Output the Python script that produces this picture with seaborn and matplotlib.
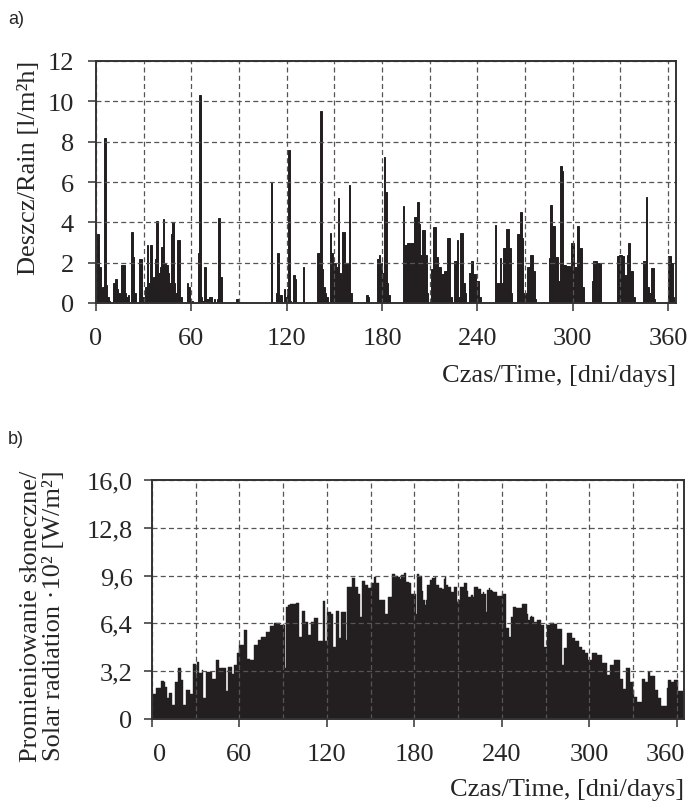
import numpy as np
import pandas as pd
import matplotlib
matplotlib.use("Agg")
import matplotlib.pyplot as plt
import seaborn as sns
from matplotlib.transforms import ScaledTranslation

# ---------------- data ----------------
rain = [
    3.4, 3.4, 1.8, 0.7, 0.8, 8.2, 0.9, 0.3, 0.1, 0.0,
    0.0, 1.0, 1.2, 0.7, 0.5, 0.4, 1.9, 1.9, 0.5, 0.3,
    0.4, 0.0, 3.5, 2.3, 0.5, 0.0, 0.0, 2.2, 2.2, 0.3,
    0.0, 0.8, 2.9, 1.0, 2.9, 1.2, 1.3, 2.2, 4.05, 1.5,
    1.8, 2.8, 4.15, 2.0, 1.9, 1.5, 1.0, 3.4, 4.0, 1.0,
    0.5, 3.1, 3.1, 0.3, 0.0, 0.0, 0.0, 1.0, 0.8, 0.2,
    0.1, 0.0, 0.0, 0.0, 2.5, 10.3, 0.3, 0.1, 1.8, 0.2,
    0.2, 0.3, 0.3, 0.0, 0.2, 0.0, 0.2, 4.2, 1.3, 0.0,
    0.0, 0.0, 0.0, 0.0, 0.0, 0.0, 0.0, 0.0, 0.2, 0.2,
    0.0, 0.0, 0.0, 0.0, 0.0, 0.0, 0.0, 0.0, 0.0, 0.0,
    0.0, 0.0, 0.0, 0.0, 0.0, 0.0, 0.0, 0.0, 0.0, 0.0,
    6.0, 0.0, 0.0, 0.5, 2.5, 0.4, 0.4, 0.0, 0.7, 0.3,
    0.7, 7.6, 0.1, 0.0, 1.4, 1.2, 0.0, 0.0, 0.0, 0.0,
    1.8, 0.0, 0.0, 0.0, 0.0, 0.0, 0.0, 0.0, 0.0, 2.5,
    2.5, 9.5, 1.7, 0.8, 0.5, 0.3, 0.0, 3.45, 2.5, 1.8,
    2.0, 1.8, 5.2, 1.5, 1.2, 3.5, 3.5, 2.0, 2.0, 5.85,
    0.5, 0.0, 0.0, 0.0, 0.0, 0.0, 0.0, 0.0, 0.0, 0.0,
    0.4, 0.3, 0.0, 0.0, 0.0, 0.0, 0.0, 2.2, 2.4, 2.0,
    1.5, 7.25, 5.5, 1.0, 0.4, 0.0, 0.0, 0.0, 0.0, 0.0,
    0.0, 0.0, 0.0, 4.8, 2.9, 2.9, 3.0, 3.0, 3.0, 3.0,
    4.25, 4.25, 5.0, 3.9, 2.4, 3.6, 3.6, 2.4, 0.5, 0.0,
    0.0, 1.7, 3.75, 3.75, 2.3, 1.8, 1.8, 1.45, 1.45, 1.6,
    1.6, 3.2, 3.2, 0.3, 0.0, 2.1, 2.1, 3.1, 0.3, 3.45,
    3.45, 1.0, 0.5, 0.0, 0.0, 1.5, 2.1, 1.45, 1.45, 1.1,
    1.1, 0.3, 0.0, 0.0, 0.0, 0.0, 0.0, 0.0, 0.0, 0.0,
    0.0, 3.85, 1.0, 1.0, 2.25, 1.0, 2.75, 2.75, 3.65, 3.65,
    2.75, 0.5, 0.0, 0.0, 0.0, 3.4, 3.4, 4.5, 3.2, 0.5,
    0.5, 1.8, 1.8, 2.4, 2.4, 1.6, 0.2, 0.0, 0.0, 0.0,
    0.0, 0.0, 0.0, 0.0, 0.0, 2.25, 4.85, 3.8, 3.8, 2.3,
    2.3, 1.1, 6.8, 6.55, 1.9, 1.9, 1.85, 1.85, 1.75, 3.0,
    3.0, 1.8, 1.8, 3.8, 2.75, 2.75, 0.8, 0.0, 0.0, 0.0,
    0.0, 0.0, 1.1, 2.1, 2.1, 0.5, 2.0, 2.0, 0.0, 0.0,
    0.0, 0.0, 0.0, 0.0, 0.0, 0.0, 0.0, 0.0, 2.35, 2.4,
    2.4, 2.35, 1.4, 1.4, 2.4, 3.0, 1.6, 1.6, 0.3, 0.0,
    0.0, 0.0, 0.0, 0.0, 2.1, 2.1, 5.25, 0.8, 0.5, 1.75,
    1.75, 0.2, 0.0, 0.0, 0.0, 0.0, 0.0, 0.0, 0.0, 0.0,
    2.35, 2.35, 2.0, 0.3, 0.0,
]

solar = [
    1.7, 1.7, 1.7, 2.05, 2.05, 2.05, 2.55, 2.55, 2.5, 2.15,
    1.4, 1.4, 1.75, 1.75, 0.95, 0.95, 2.5, 2.5, 3.4, 3.4,
    2.6, 0.95, 0.95, 1.95, 1.95, 1.95, 1.7, 1.7, 3.7, 3.7,
    2.85, 3.8, 3.05, 3.05, 3.3, 1.4, 1.4, 3.15, 3.15, 3.15,
    3.15, 2.7, 2.7, 2.7, 3.95, 3.95, 3.4, 3.4, 3.4, 3.4,
    3.4, 1.85, 3.45, 3.45, 3.45, 3.0, 3.6, 3.6, 4.4, 4.4,
    4.95, 4.95, 4.95, 5.95, 5.95, 4.05, 4.05, 3.95, 3.95, 3.95,
    4.95, 4.95, 4.95, 5.3, 5.3, 5.5, 5.5, 5.5, 5.85, 5.85,
    5.85, 6.2, 6.2, 6.2, 6.4, 6.4, 6.4, 6.4, 6.3, 6.3,
    6.3, 3.4, 7.5, 7.6, 7.6, 7.7, 7.7, 7.7, 7.7, 7.75,
    7.75, 5.5, 5.5, 7.2, 7.2, 6.5, 6.5, 5.6, 5.6, 6.5,
    6.5, 6.75, 6.75, 6.75, 5.2, 5.2, 5.2, 7.9, 7.9, 5.2,
    7.15, 7.15, 7.15, 7.0, 4.85, 4.85, 7.25, 7.25, 5.4, 5.4,
    7.15, 7.15, 7.15, 5.3, 8.85, 8.85, 8.85, 9.45, 9.45, 8.85,
    8.85, 8.4, 8.4, 6.85, 9.25, 9.25, 9.0, 9.0, 8.75, 8.75,
    9.1, 9.1, 9.5, 9.5, 9.1, 9.1, 8.0, 8.0, 8.0, 8.0,
    7.0, 7.0, 8.2, 8.2, 8.2, 9.7, 9.7, 9.6, 9.6, 9.5,
    9.4, 9.65, 9.65, 9.75, 9.2, 9.2, 9.1, 9.1, 8.4, 8.4,
    8.4, 7.0, 9.7, 9.6, 9.6, 8.6, 8.0, 7.6, 8.0, 9.0,
    9.0, 9.3, 9.45, 9.45, 9.5, 9.0, 9.0, 8.75, 8.75, 8.7,
    9.4, 9.5, 9.0, 8.85, 8.85, 8.5, 8.5, 8.85, 8.85, 7.85,
    8.0, 8.85, 8.85, 8.85, 9.1, 9.1, 8.6, 8.2, 8.2, 8.3,
    8.2, 8.85, 8.85, 8.85, 8.7, 8.7, 8.35, 8.5, 8.35, 7.15,
    8.65, 8.75, 8.65, 8.6, 8.5, 8.5, 8.5, 8.25, 8.25, 8.25,
    8.35, 8.35, 8.35, 6.1, 6.1, 5.5, 6.8, 6.8, 7.5, 7.5,
    7.4, 7.4, 7.4, 7.4, 7.7, 7.7, 7.7, 7.0, 6.65, 6.85,
    6.9, 6.85, 6.5, 6.5, 6.6, 6.6, 6.6, 6.3, 6.3, 4.8,
    4.8, 6.3, 6.3, 6.45, 6.45, 6.45, 6.35, 6.35, 6.05, 6.05,
    6.05, 3.6, 3.6, 4.75, 4.75, 5.75, 5.75, 5.75, 5.4, 5.4,
    5.2, 5.2, 5.2, 4.85, 4.85, 4.6, 4.6, 4.4, 4.4, 3.95,
    3.95, 3.95, 4.4, 4.4, 4.4, 4.3, 4.3, 4.3, 4.3, 3.75,
    3.75, 3.75, 2.95, 2.95, 3.6, 3.6, 3.6, 3.95, 3.95, 3.95,
    3.95, 2.7, 2.7, 2.0, 2.0, 3.4, 3.4, 3.4, 2.5, 2.5,
    1.95, 1.5, 1.5, 1.15, 1.15, 1.15, 2.7, 2.7, 2.5, 2.5,
    3.15, 3.15, 2.85, 2.85, 2.85, 1.95, 1.95, 1.4, 1.4, 0.9,
    0.9, 0.9, 0.9, 2.05, 2.6, 2.6, 2.5, 2.5, 2.6, 2.6,
    2.6, 1.85, 1.85, 1.85, 1.85,
]

x_ticks = [0, 60, 120, 180, 240, 300, 360]
x_grid = [30, 90, 150, 210, 270, 330]
rain_ticks = [0, 2, 4, 6, 8, 10, 12]
solar_ticks = [0, 3.2, 6.4, 9.6, 12.8, 16.0]
solar_tick_labels = ["0", "3,2", "6,4", "9,6", "12,8", "16,0"]

rain_ylabel = "Deszcz/Rain [l/m\u00b2h]"
solar_ylabel = "Promieniowanie s\u0142oneczne/\nSolar radiation \u00b710\u00b2 [W/m\u00b2]"
time_xlabel = "Czas/Time, [dni/days]"

# ---------------- style ----------------
sns.set_style("ticks")
plt.rcParams["font.family"] = ["Liberation Serif", "DejaVu Serif"]

BAR = "#231f20"
AX = "#333333"
GRID = "#555555"
FS = 19

fig = plt.figure(figsize=(6.9, 8.03), dpi=100)
ax1 = fig.add_axes([96 / 690, 1 - 304 / 803, 580 / 690, 242 / 803])
ax2 = fig.add_axes([152 / 690, 1 - 720 / 803, 532 / 690, 239 / 803])

n = len(rain)
df = pd.DataFrame({"day": np.arange(n), "rain": rain, "solar": solar[:n]})


def style_axes(ax, ylim, yticks, ylabels, ypad):
    ax.set_xlim(0, 365)
    ax.set_ylim(*ylim)
    ax.set_xticks(x_ticks)
    ax.set_xticks(x_grid, minor=True)
    ax.set_yticks(yticks)
    if ylabels is not None:
        ax.set_yticklabels(ylabels)
    ax.set_axisbelow(False)
    ax.grid(True, which="both", axis="x", color=GRID, lw=0.9, ls=(0, (4, 2.6)))
    ax.grid(True, which="major", axis="y", color=GRID, lw=0.9, ls=(0, (4, 2.6)))
    ax.tick_params(axis="both", which="major", labelsize=FS, length=6, width=1.1,
                   color=AX, direction="out", bottom=True, left=True,
                   top=False, right=False)
    ax.tick_params(axis="x", which="major", pad=11)
    ax.tick_params(axis="y", which="major", pad=ypad)
    ax.tick_params(which="minor", length=0, bottom=False, left=False)
    for s in ax.spines.values():
        s.set_color(AX)
        s.set_linewidth(1.4)
        s.set_zorder(5)


sns.histplot(data=df, x="day", weights="rain", bins=365, binrange=(0, 365),
             color=BAR, alpha=1, edgecolor=BAR, linewidth=0.7, ax=ax1)
sns.histplot(data=df, x="day", weights="solar", bins=365, binrange=(0, 365),
             color=BAR, alpha=1, edgecolor=BAR, linewidth=0.3, ax=ax2)

style_axes(ax1, (0, 12), rain_ticks, None, 10)
style_axes(ax2, (0, 16), solar_ticks, solar_tick_labels, 8)

ax1.set_ylabel(rain_ylabel, fontsize=FS, va="center", ha="center")
ax1.yaxis.set_label_coords(-0.1155, 0.562)
ax1.set_xlabel(time_xlabel, fontsize=FS, ha="right", va="center")
ax1.xaxis.set_label_coords(1.0, -0.2975)

ax2.set_ylabel(solar_ylabel, fontsize=FS, va="center", ha="center", linespacing=1.1)
ax2.yaxis.set_label_coords(-0.206, 0.435)
ax2.set_xlabel(time_xlabel, fontsize=FS, ha="right", va="center")
ax2.xaxis.set_label_coords(1.0, -0.293)

# in the original the outer labels of the lower time axis sit slightly inwards
ticks2 = ax2.xaxis.get_major_ticks()
t0 = ticks2[0]
t0.label1.set_transform(t0.label1.get_transform() + ScaledTranslation(0.08, 0, fig.dpi_scale_trans))
tl = ticks2[-1]
tl.label1.set_transform(tl.label1.get_transform() + ScaledTranslation(-0.11, 0, fig.dpi_scale_trans))

fig.text(8 / 690, 1 - 20 / 803, "a)", family=["Liberation Sans", "DejaVu Sans"],
         fontsize=13, ha="left", va="center")
fig.text(8 / 690, 1 - 440 / 803, "b)", family=["Liberation Sans", "DejaVu Sans"],
         fontsize=13, ha="left", va="center")

fig.savefig("out.png", dpi=100)
